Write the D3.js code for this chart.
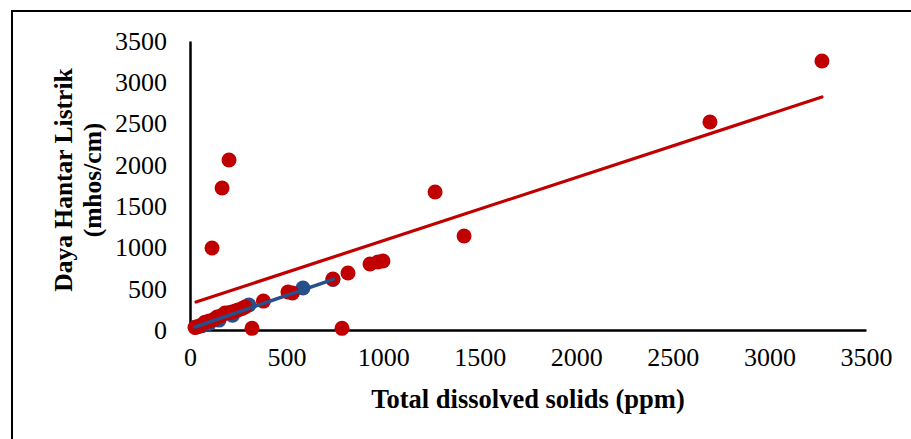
<!DOCTYPE html>
<html>
<head>
<meta charset="utf-8">
<script src="https://cdn.jsdelivr.net/npm/d3@7"></script>
<style>
  body { margin: 0; background: #fff; }
  svg text { font-family: "Liberation Serif", "Times New Roman", serif; fill: #000; }
</style>
</head>
<body>
<svg id="chart" width="911" height="439"></svg>
<script>
// red series (all samples)
const redX = [26, 40, 55, 78, 100, 125, 140, 160, 181, 200, 217, 235, 249, 270, 285, 380, 507, 530, 740, 818, 932, 973, 999, 1269, 1419, 2692, 3272, 202, 166, 114, 321, 787];
const redY = [30, 40, 55, 95, 110, 130, 157, 170, 206, 210, 218, 230, 242, 260, 279, 350, 460, 448, 618, 690, 799, 824, 836, 1671, 1138, 2519, 3258, 2059, 1720, 993, 20, 20];
// blue series
const blueX = [30, 60, 100, 150, 220, 305, 585, 740];
const blueY = [35, 50, 80, 120, 180, 303, 509, 612];
// trendlines (ends)
const redTrendX = [31, 3272];
const redTrendY = [339, 2822];
const blueTrendX = [26, 742];
const blueTrendY = [36, 614];

const xTicks = [0, 500, 1000, 1500, 2000, 2500, 3000, 3500];
const yTicks = [0, 500, 1000, 1500, 2000, 2500, 3000, 3500];

const svg = d3.select('#chart');

// outer frame (only top and left visible)
svg.append('path')
  .attr('d', 'M12,439 L12,11 L911,11')
  .attr('fill', 'none')
  .attr('stroke', '#000')
  .attr('stroke-width', 2);

const x = d3.scaleLinear().domain([0, 3500]).range([190, 866]);
const y = d3.scaleLinear().domain([0, 3500]).range([330, 41]);

// axes
const xAxis = svg.append('g')
  .attr('transform', 'translate(0,330)')
  .call(d3.axisBottom(x).tickValues(xTicks).tickFormat(d3.format('d')).tickSize(0).tickPadding(18));
xAxis.select('.domain').attr('stroke', '#000').attr('stroke-width', 2.5);
xAxis.selectAll('text').attr('font-size', 26).attr('font-family', '"Liberation Serif", serif');

const yAxis = svg.append('g')
  .attr('transform', 'translate(190,0)')
  .call(d3.axisLeft(y).tickValues(yTicks).tickFormat(d3.format('d')).tickSize(0).tickPadding(23));
yAxis.select('.domain').attr('stroke', '#000').attr('stroke-width', 2.5);
yAxis.selectAll('text').attr('font-size', 26).attr('font-family', '"Liberation Serif", serif');

const redPts = redX.map((d, i) => [d, redY[i]]);
const bluePts = blueX.map((d, i) => [d, blueY[i]]);

svg.append('g').selectAll('circle')
  .data(bluePts)
  .enter().append('circle')
  .attr('cx', d => x(d[0]))
  .attr('cy', d => y(d[1]))
  .attr('r', 7.5)
  .attr('fill', '#255089');

svg.append('g').selectAll('circle')
  .data(redPts)
  .enter().append('circle')
  .attr('cx', d => x(d[0]))
  .attr('cy', d => y(d[1]))
  .attr('r', 7.5)
  .attr('fill', '#c00000');

const line = d3.line().x(d => x(d[0])).y(d => y(d[1]));

svg.append('path')
  .datum(redTrendX.map((d, i) => [d, redTrendY[i]]))
  .attr('d', line)
  .attr('fill', 'none')
  .attr('stroke', '#c00000')
  .attr('stroke-width', 3.2)
  .attr('stroke-linecap', 'round');

svg.append('path')
  .datum(blueTrendX.map((d, i) => [d, blueTrendY[i]]))
  .attr('d', line)
  .attr('fill', 'none')
  .attr('stroke', '#255089')
  .attr('stroke-width', 3.5)
  .attr('stroke-linecap', 'round');

// axis titles
svg.append('text')
  .attr('x', 528)
  .attr('y', 408)
  .attr('text-anchor', 'middle')
  .attr('font-size', 26.5)
  .attr('font-weight', 'bold')
  .text('Total dissolved solids (ppm)');

svg.append('text')
  .attr('transform', 'translate(72,180) rotate(-90)')
  .attr('text-anchor', 'middle')
  .attr('font-size', 25.5)
  .attr('font-weight', 'bold')
  .text('Daya Hantar Listrik');

svg.append('text')
  .attr('transform', 'translate(101,180) rotate(-90)')
  .attr('text-anchor', 'middle')
  .attr('font-size', 25.5)
  .attr('font-weight', 'bold')
  .text('(mhos/cm)');
</script>
</body>
</html>
